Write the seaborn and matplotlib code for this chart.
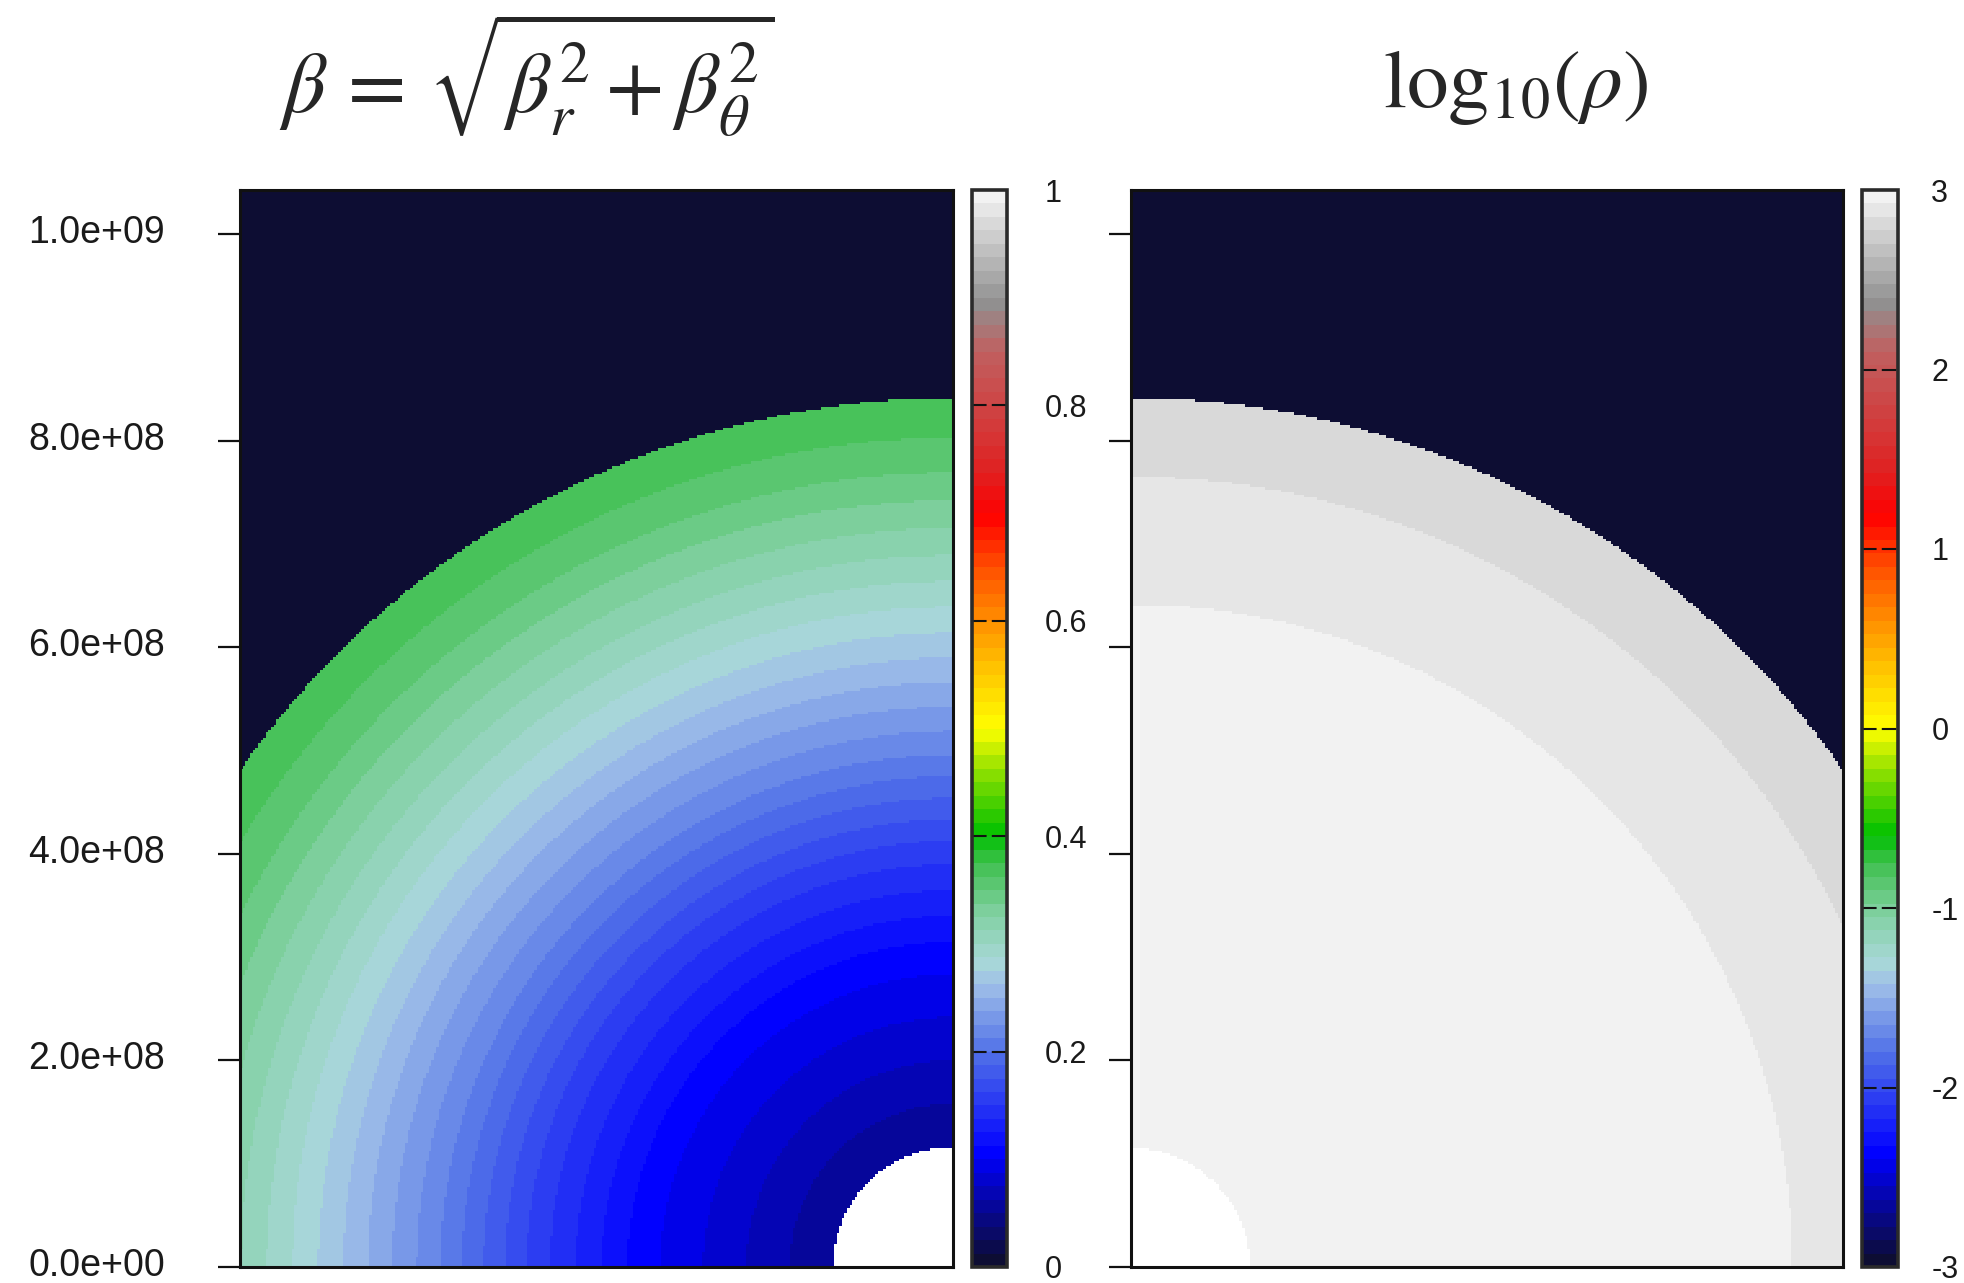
import numpy as np
import pandas as pd
import matplotlib
matplotlib.use("Agg")
import matplotlib.pyplot as plt
import matplotlib.transforms as mtransforms
import seaborn as sns
from matplotlib.colors import LinearSegmentedColormap

# ---- radial profiles of the two fields (radius in cm) ----
beta_radius = np.array([1.16, 2.0, 3.0, 4.0, 5.0, 6.0, 7.0, 7.8, 8.41]) * 1e8
beta_value = np.array([0.05, 0.075, 0.105, 0.155, 0.215, 0.268, 0.318, 0.355, 0.375])

rho_radius = np.array([1.15, 4.0, 5.0, 5.8, 6.5, 7.2, 7.8, 8.41]) * 1e8
rho_value = np.array([3.6, 3.1, 3.0, 2.96, 2.92, 2.88, 2.84, 2.80])

inner_radius_beta = 1.16e8
inner_radius_rho = 1.15e8
outer_radius = 8.41e8

# ---- axis ticks and labels ----
y_ticks = [0.0, 2e8, 4e8, 6e8, 8e8, 1e9]
y_tick_labels = ["0.0e+00", "2.0e+08", "4.0e+08", "6.0e+08", "8.0e+08", "1.0e+09"]
beta_ticks = [0.0, 0.2, 0.4, 0.6, 0.8, 1.0]
beta_tick_labels = ["0", "0.2", "0.4", "0.6", "0.8", "1"]
rho_ticks = [-3, -2, -1, 0, 1, 2, 3]
rho_tick_labels = ["-3", "-2", "-1", "0", "1", "2", "3"]

title_beta = r"$\beta\,=\,\sqrt{\beta_r^2+\beta_\theta^2}$"
title_rho = r"$\mathrm{log}_{10}(\rho)$"

# ---- palette (gnuplot-like rainbow ending in greys) ----
stops = [0.0, 0.10, 0.195, 0.26, 0.28, 0.327, 0.373, 0.40, 0.46, 0.50,
         0.56, 0.60, 0.65, 0.70, 0.74, 0.795, 0.855, 0.90, 1.0]
stop_colors = ["#0d0d33", "#0000ff", "#5070e8", "#a0c0e8", "#a8d8d8", "#80d0a0",
               "#40c050", "#00c000", "#90e000", "#ffff00", "#ffc000", "#ff9000",
               "#ff5000", "#ff0000", "#e02020", "#d04040", "#c06060", "#909090",
               "#f2f2f2"]
cmap = LinearSegmentedColormap.from_list("flash", list(zip(stops, stop_colors)), N=80)

# ---- Cartesian grid ----
cell = 2.5e6
nx, ny = 276, 417
xc = (np.arange(nx) + 0.5) * cell
yc = (np.arange(ny) + 0.5) * cell
X, Y = np.meshgrid(xc, yc)

# left panel: centre at the lower right corner
r_left = np.hypot(nx * cell - X, Y)
beta = np.interp(r_left, beta_radius, beta_value)
beta[r_left > outer_radius] = 0.0
beta[r_left < inner_radius_beta] = np.nan

# right panel: centre at the lower left corner
r_right = np.hypot(X, Y)
logrho = np.interp(r_right, rho_radius, rho_value)
logrho[r_right > outer_radius] = -3.0
logrho[r_right < inner_radius_rho] = np.nan

sns.set_style("white")
plt.rcParams["font.family"] = ["Liberation Sans", "DejaVu Sans"]
plt.rcParams["mathtext.fontset"] = "stix"
plt.rcParams["axes.unicode_minus"] = False

W, H = 1965, 1283
fig = plt.figure(figsize=(W / 100, H / 100), dpi=100)


def box(x0, x1, y_top, y_bot):
    return [x0 / W, (H - y_bot) / H, (x1 - x0) / W, (y_bot - y_top) / H]


ax_l = fig.add_axes(box(240, 953, 190, 1267))
cax_l = fig.add_axes(box(972, 1007, 190, 1267))
ax_r = fig.add_axes(box(1131, 1843, 190, 1267))
cax_r = fig.add_axes(box(1862, 1898, 190, 1267))

lift = mtransforms.ScaledTranslation(0, 5 / 100, fig.dpi_scale_trans)


def panel(ax, cax, field, vmin, vmax, cticks, clabels, cpad, show_labels):
    sns.heatmap(pd.DataFrame(field), ax=ax, cmap=cmap, vmin=vmin, vmax=vmax,
                cbar_ax=cax, xticklabels=False, yticklabels=False,
                rasterized=True)
    ax.set_facecolor("white")
    ax.set_xlim(0, nx)
    ax.set_ylim(0, ny)
    for s in ax.spines.values():
        s.set_visible(True)
        s.set_color("#111111")
        s.set_linewidth(2.2)
    ax.set_xticks([])
    ax.set_yticks(np.array(y_ticks) / cell)
    ax.set_yticklabels(y_tick_labels if show_labels else [])
    ax.tick_params(axis="y", left=True, direction="out", length=16, width=1.6,
                   color="#111111", pad=38, labelsize=27, labelcolor="#1a1a1a")
    if show_labels:
        for lab in ax.get_yticklabels():
            lab.set_transform(lab.get_transform() + lift)
    ax.set_xlabel("")
    ax.set_ylabel("")

    cb = ax.collections[0].colorbar
    cb.outline.set_visible(True)
    cb.outline.set_linewidth(2.6)
    cb.outline.set_edgecolor("#2a2a2a")
    cb.set_ticks(cticks)
    cb.set_ticklabels(clabels)
    cax.tick_params(length=0, pad=cpad, labelsize=22, labelcolor="#1a1a1a")
    for v in cticks[1:-1]:
        cax.axhline(v, color="#111111", lw=1.5, ls=(0, (7, 2.5)))


panel(ax_l, cax_l, beta, 0, 1, beta_ticks, beta_tick_labels, 27, True)
panel(ax_r, cax_r, logrho, -3, 3, rho_ticks, rho_tick_labels, 24, False)

fig.text(527 / W, 1 - 113 / H, title_beta, fontsize=61, ha="center", va="baseline")
fig.text(1516 / W, 1 - 107 / H, title_rho, fontsize=60, ha="center", va="baseline")

fig.savefig("out.png", dpi=100, facecolor="white")
